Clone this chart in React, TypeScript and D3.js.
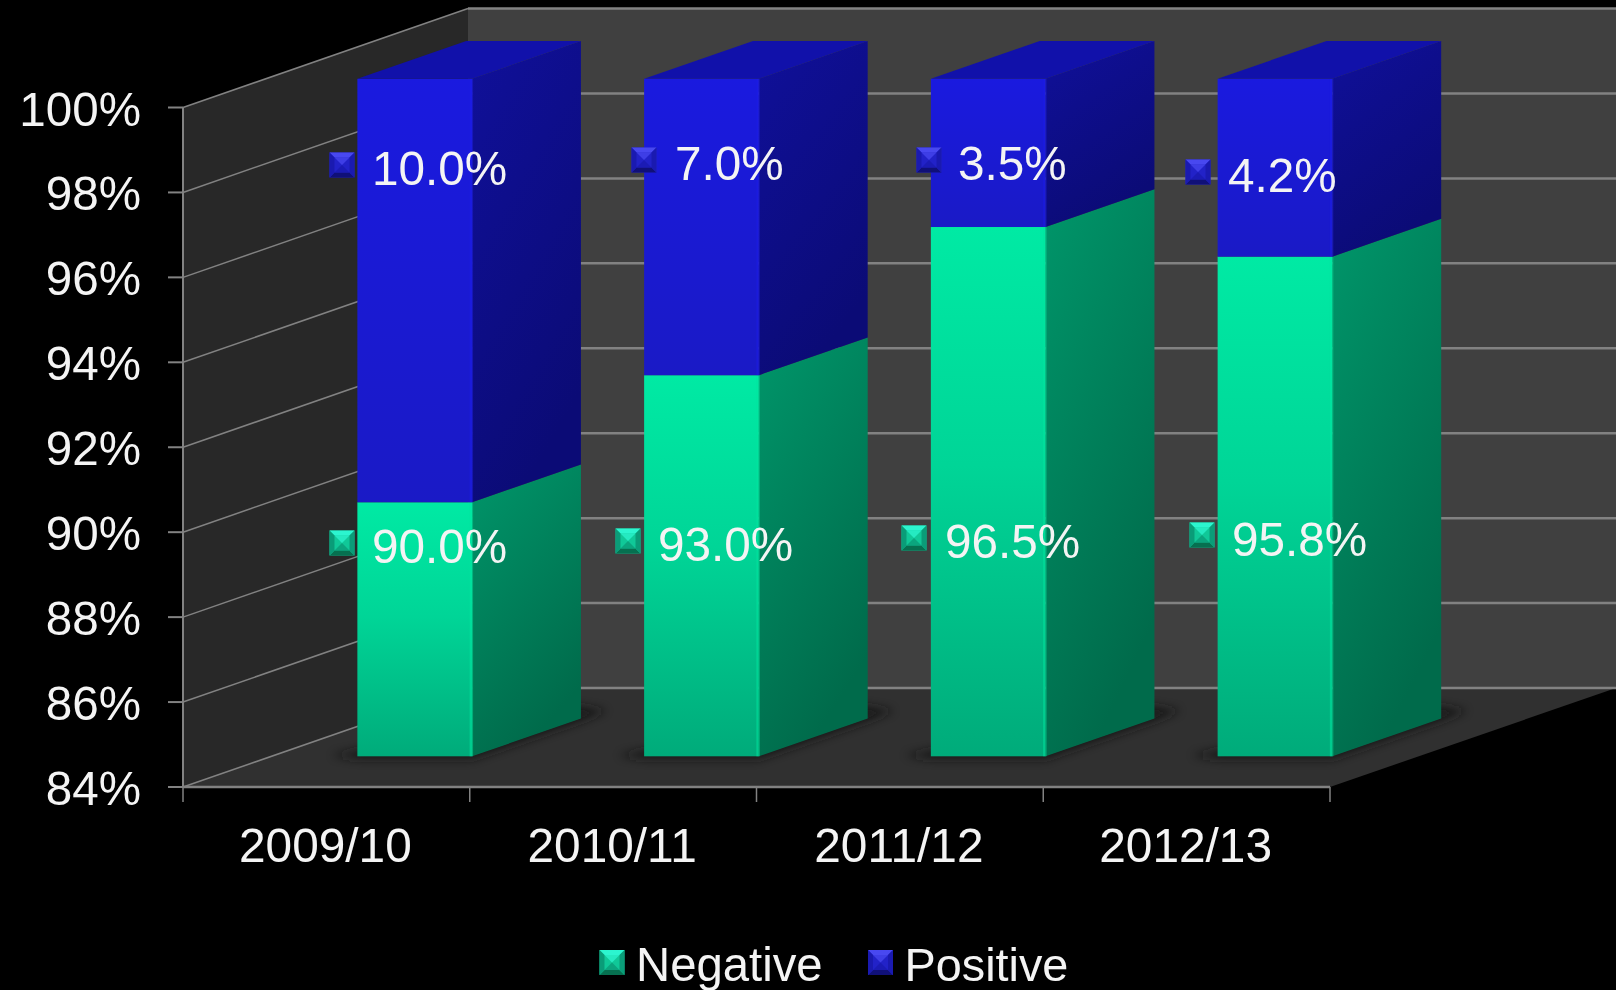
import React from "react";
import * as d3 from "d3";

const categories = ["2009/10", "2010/11", "2011/12", "2012/13"];
const negativeValues = [90.0, 93.0, 96.5, 95.8];
const positiveValues = [10.0, 7.0, 3.5, 4.2];
const valueTicks = [84, 86, 88, 90, 92, 94, 96, 98, 100];
const legendNames = ["Negative", "Positive"];

// label anchors as placed in the reference: [marker centre x, centre y, text x, text baseline]
const negativeLabelAnchors = [[342, 543, 372, 563], [628, 541, 658, 561], [914, 538, 945, 558], [1202, 535, 1232, 556]];
const positiveLabelAnchors = [[342, 165, 372, 185], [644, 160, 675, 180], [929, 160, 958, 180], [1198, 172, 1228, 192]];

const W = 1616, H = 990;
const FONT = "'Liberation Sans', Arial, sans-serif";
const TEXT = "#f4f4f4";
const GRID = "#828282";

const plotLeft = 183, plotRight = 1330, plotBottom = 787, plotTop = 107.5;
const depthX = 285, depthY = -99;
const zFront = 0.31, zBack = 0.692;

const x = d3.scaleBand<string>().domain(categories).range([plotLeft, plotRight]).paddingInner(0.6).paddingOuter(0.3);
const y = d3.scaleLinear().domain([84, 100]).range([plotBottom, plotTop]);
const tickX = d3.scaleLinear().domain([0, categories.length]).range([plotLeft, plotRight]);
const barY = d3.scaleLinear().domain([84, 100]).range([plotBottom + depthY * zFront, plotTop + depthY * zFront + 2]);

const pts = (p: number[][]) => p.map((q) => q.join(",")).join(" ");

function Marker({ cx, cy, light, mid, dark, edge }: any) {
  const s = 12.5, b = 5;
  const l = cx - s, r = cx + s, t = cy - s, o = cy + s;
  return (
    <g>
      <rect x={l} y={t} width={2 * s} height={2 * s} fill={mid} />
      <polygon points={pts([[l, t], [r, t], [r - b, t + b], [l + b, t + b]])} fill={light} />
      <polygon points={pts([[l, o], [r, o], [r - b, o - b], [l + b, o - b]])} fill={edge} />
      <polygon points={pts([[l, t], [l + b, t + b], [l + b, o - b], [l, o]])} fill={dark} />
      <polygon points={pts([[r, t], [r - b, t + b], [r - b, o - b], [r, o]])} fill={dark} />
      <polygon points={pts([[l + b, t + b], [r - b, t + b], [cx, cy]])} fill={light} opacity={0.75} />
      <polygon points={pts([[l + b, o - b], [r - b, o - b], [cx, cy]])} fill={dark} opacity={0.8} />
    </g>
  );
}

const greenMarker = { light: "#2cf5cf", mid: "#10c898", dark: "#0a9c78", edge: "#067050" };
const blueMarker = { light: "#4848f0", mid: "#2222c8", dark: "#1a1ab0", edge: "#101078" };

function Bar({ category, lo, hi, front, side, topFace, edge }: any) {
  const left = x(category)! + depthX * zFront;
  const w = x.bandwidth();
  const dx = depthX * (zBack - zFront);
  const dy = depthY * (zBack - zFront);
  const yLo = barY(lo), yHi = barY(hi);
  return (
    <g>
      <rect x={left} y={yHi} width={w} height={yLo - yHi} fill={`url(#${front})`} />
      <polygon
        points={pts([[left + w, yLo], [left + w + dx, yLo + dy], [left + w + dx, yHi + dy], [left + w, yHi]])}
        fill={`url(#${side})`}
      />
      <rect x={left + w - 2.5} y={yHi} width={3.5} height={yLo - yHi} fill={edge} opacity={0.5} />
      {topFace && (
        <polygon
          points={pts([[left, yHi], [left + w, yHi], [left + w + dx, yHi + dy], [left + dx, yHi + dy]])}
          fill={topFace}
        />
      )}
    </g>
  );
}

export default function App() {
  const floor = [[plotLeft, plotBottom], [plotRight, plotBottom], [plotRight + depthX + 1, plotBottom + depthY], [plotLeft + depthX, plotBottom + depthY]];
  const leftWall = [[plotLeft, plotBottom], [plotLeft + depthX, plotBottom + depthY], [plotLeft + depthX, plotTop + depthY], [plotLeft, plotTop]];
  return (
    <svg width={W} height={H} viewBox={`0 0 ${W} ${H}`} style={{ position: "absolute", left: 0, top: 0, display: "block", background: "#000" }} fontFamily={FONT}>
      <defs>
        <linearGradient id="gFront" x1="0" y1="0" x2="0" y2="1">
          <stop offset="0" stopColor="#00eaa4" />
          <stop offset="0.45" stopColor="#00d597" />
          <stop offset="1" stopColor="#00ab7a" />
        </linearGradient>
        <linearGradient id="gSide" x1="0" y1="0" x2="0.4" y2="1">
          <stop offset="0" stopColor="#00966a" />
          <stop offset="1" stopColor="#006b4b" />
        </linearGradient>
        <linearGradient id="bFront" x1="0" y1="0" x2="0" y2="1">
          <stop offset="0" stopColor="#1a1adf" />
          <stop offset="1" stopColor="#1a1ac6" />
        </linearGradient>
        <linearGradient id="bSide" x1="0" y1="0" x2="0.4" y2="1">
          <stop offset="0" stopColor="#10109a" />
          <stop offset="1" stopColor="#0b0b76" />
        </linearGradient>
        <filter id="soft" x="-30%" y="-60%" width="160%" height="220%">
          <feGaussianBlur stdDeviation="5" />
        </filter>
        <filter id="txt" x="-5%" y="-20%" width="110%" height="140%">
          <feGaussianBlur stdDeviation="0.45" />
        </filter>
      </defs>

      <rect x={plotLeft + depthX} y={plotTop + depthY} width={W - plotLeft - depthX} height={plotBottom - plotTop} fill="#404040" />
      <polygon points={pts(leftWall)} fill="#282828" />
      <polygon points={pts(floor)} fill="#303030" />

      {valueTicks.map((v) => (
        <g key={v} stroke={GRID} fill="none">
          <line x1={plotLeft + depthX} x2={W} y1={y(v) + depthY} y2={y(v) + depthY} strokeWidth={2.5} />
          <line x1={plotLeft} x2={plotLeft + depthX} y1={y(v)} y2={y(v) + depthY} strokeWidth={1.5} />
          <line x1={plotLeft - 15} x2={plotLeft} y1={y(v)} y2={y(v)} strokeWidth={2} />
        </g>
      ))}
      <line x1={plotLeft} x2={plotLeft} y1={plotTop} y2={plotBottom} stroke={GRID} strokeWidth={2} />
      <line x1={plotLeft} x2={plotRight} y1={plotBottom} y2={plotBottom} stroke={GRID} strokeWidth={2.5} />
      {d3.range(categories.length + 1).map((i) => (
        <line key={i} x1={tickX(i)} x2={tickX(i)} y1={plotBottom} y2={plotBottom + 15} stroke={GRID} strokeWidth={1.5} />
      ))}

      {categories.map((c) => {
        const left = x(c)! + depthX * zFront;
        const w = x.bandwidth();
        const dx = depthX * (zBack - zFront), dy = depthY * (zBack - zFront);
        const b = barY(84);
        return (
          <polygon
            key={c}
            filter="url(#soft)"
            fill="#161616"
            opacity={0.8}
            points={pts([[left - 26, b - 1], [left, b + 3], [left + w, b + 3], [left + w + dx, b + dy + 3], [left + w + dx + 26, b + dy - 8], [left + w + dx - 10, b + dy - 14], [left + 10, b - 8]])}
          />
        );
      })}

      {categories.map((c, i) => (
        <g key={c}>
          <Bar category={c} lo={84} hi={negativeValues[i]} front="gFront" side="gSide" edge="#00e8a0" />
          <Bar category={c} lo={negativeValues[i]} hi={negativeValues[i] + positiveValues[i]} front="bFront" side="bSide" topFace="#1111aa" edge="#1c1ce8" />
        </g>
      ))}

      <g filter="url(#txt)">
        {valueTicks.map((v) => (
          <text key={v} x={141} y={y(v) + 18} textAnchor="end" fontSize={47.6} fill={TEXT}>{v}%</text>
        ))}
        {categories.map((c) => (
          <text key={c} x={x(c)! + x.bandwidth() / 2 - 1} y={862} textAnchor="middle" fontSize={47.8} fill={TEXT}>{c}</text>
        ))}
      </g>

      {negativeValues.map((v, i) => {
        const [mx, my, tx, ty] = negativeLabelAnchors[i];
        return (
          <g key={i}>
            <Marker cx={mx} cy={my} {...greenMarker} />
            <text x={tx} y={ty} fontSize={47.7} fill={TEXT} filter="url(#txt)">{v.toFixed(1)}%</text>
          </g>
        );
      })}
      {positiveValues.map((v, i) => {
        const [mx, my, tx, ty] = positiveLabelAnchors[i];
        return (
          <g key={i}>
            <Marker cx={mx} cy={my} {...blueMarker} />
            <text x={tx} y={ty} fontSize={47.7} fill={TEXT} filter="url(#txt)">{v.toFixed(1)}%</text>
          </g>
        );
      })}

      <Marker cx={612} cy={962.5} {...greenMarker} />
      <text x={636} y={981} fontSize={47.3} fill={TEXT} filter="url(#txt)">{legendNames[0]}</text>
      <Marker cx={880.5} cy={962.5} {...blueMarker} />
      <text x={904.5} y={981} fontSize={46.8} fill={TEXT} filter="url(#txt)">{legendNames[1]}</text>
    </svg>
  );
}
